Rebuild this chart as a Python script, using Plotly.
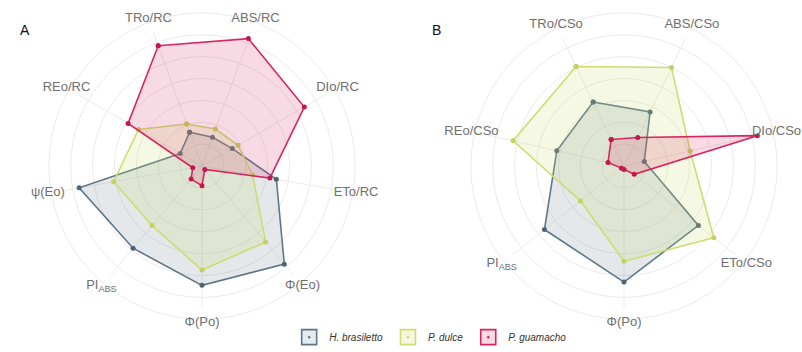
import plotly.graph_objects as go

# Panel A: JIP-test parameters per reaction centre
cats_a = ["TRo/RC", "ABS/RC", "DIo/RC", "ETo/RC", "Φ(Eo)", "Φ(Po)",
          "PI<sub>ABS</sub>", "ψ(Eo)", "REo/RC"]
brasiletto_a = [0.33, 0.28, 0.32, 0.69, 1.17, 1.09, 0.98, 1.14, 0.23]
dulce_a = [0.41, 0.36, 0.38, 0.47, 0.905, 0.95, 0.71, 0.82, 0.67]
guamacho_a = [1.17, 1.24, 1.08, 0.63, 0.04, 0.18, 0.155, 0.086, 0.78]

# Panel B: phenomenological fluxes per cross section
cats_b = ["TRo/CSo", "ABS/CSo", "DIo/CSo", "ETo/CSo", "Φ(Po)",
          "PI<sub>ABS</sub>", "REo/CSo"]
brasiletto_b = [0.65, 0.55, 0.19, 0.87, 1.06, 0.93, 0.63]
dulce_b = [1.01, 1.00, 0.62, 1.05, 0.87, 0.51, 1.04]
guamacho_b = [0.27, 0.29, 1.25, 0.12, 0.03, 0.03, 0.15]

species = ["H. brasiletto", "P. dulce", "P. guamacho"]
line_colors = ["#5f7689", "#cfdc72", "#d7265f"]
marker_colors = ["#4f6577", "#c3d160", "#c2184f"]
fill_colors = ["rgba(95,118,137,0.17)", "rgba(207,220,114,0.20)",
               "rgba(215,38,95,0.17)"]
key_fills = ["#e6ebf0", "#f4f7e0", "#fadbe5"]

ring_vals = [0.2, 0.4, 0.6, 0.8, 1.0, 1.2, 1.4]
r_max = 1.5        # a little room beyond the outer ring for the labels
spoke_r = 1.3
label_r = 1.43
grid = "#ebebeb"
font_family = "Liberation Sans, Arial, sans-serif"

fig = go.Figure()


def closed(seq):
    return list(seq) + [seq[0]]


panels = [
    ("polar", cats_a, [brasiletto_a, dulce_a, guamacho_a]),
    ("polar2", cats_b, [brasiletto_b, dulce_b, guamacho_b]),
]

for subplot, cats, series in panels:
    # spokes from the centre towards each category
    spoke_r_vals, spoke_theta = [], []
    for c in cats:
        spoke_r_vals += [0, spoke_r, None]
        spoke_theta += [c, c, c]
    fig.add_trace(go.Scatterpolar(
        r=spoke_r_vals, theta=spoke_theta, subplot=subplot, mode="lines",
        line=dict(color=grid, width=1), showlegend=False, hoverinfo="skip",
        connectgaps=False,
    ))
    for i, vals in enumerate(series):
        fig.add_trace(go.Scatterpolar(
            r=closed(vals), theta=closed(cats), subplot=subplot,
            mode="lines+markers", fill="toself", fillcolor=fill_colors[i],
            line=dict(color=line_colors[i], width=1.6),
            marker=dict(color=marker_colors[i], size=5),
            name=species[i], showlegend=False, hoverinfo="skip",
        ))
    # category labels around the rim
    fig.add_trace(go.Scatterpolar(
        r=[label_r] * len(cats), theta=cats, subplot=subplot,
        mode="text", text=cats, cliponaxis=False,
        textfont=dict(family=font_family, size=13, color="#707070"),
        showlegend=False, hoverinfo="skip",
    ))

# legend keys: boxed swatch with a centre dot
for i, name in enumerate(species):
    fig.add_trace(go.Scatterpolar(
        r=[None], theta=[cats_a[0]], subplot="polar", mode="markers",
        marker=dict(symbol="square-dot", size=15, color=key_fills[i],
                    line=dict(color=line_colors[i], width=1.6)),
        name=name, showlegend=True, hoverinfo="skip",
    ))


def polar_layout(domain_x, rotation):
    return dict(
        domain=dict(x=domain_x, y=[18 / 352, 350 / 352]),
        bgcolor="rgba(0,0,0,0)",
        radialaxis=dict(range=[0, r_max], tickvals=ring_vals,
                        showticklabels=False, ticks="", showline=False,
                        gridcolor=grid, gridwidth=1),
        angularaxis=dict(rotation=rotation, direction="clockwise",
                         showticklabels=False, ticks="", showline=False,
                         showgrid=False),
    )


fig.update_layout(
    width=802, height=352,
    margin=dict(l=0, r=0, t=0, b=0),
    paper_bgcolor="white",
    polar=polar_layout([36 / 802, 368 / 802], 90 + 20),
    polar2=polar_layout([458 / 802, 790 / 802], 90 + 360 / 14),
    legend=dict(orientation="h", x=0.537, xanchor="center",
                y=11 / 352, yanchor="middle", itemwidth=30,
                font=dict(family=font_family, size=10, color="#333333",
                          style="italic"),
                bgcolor="rgba(0,0,0,0)"),
    annotations=[
        dict(text="A", x=18 / 802, y=1 - 20 / 352, xref="paper", yref="paper",
             showarrow=False, font=dict(family=font_family, size=14,
                                        color="#111111")),
        dict(text="B", x=436 / 802, y=1 - 20 / 352, xref="paper", yref="paper",
             showarrow=False, font=dict(family=font_family, size=14,
                                        color="#111111")),
    ],
)

fig.write_html("out.html")
